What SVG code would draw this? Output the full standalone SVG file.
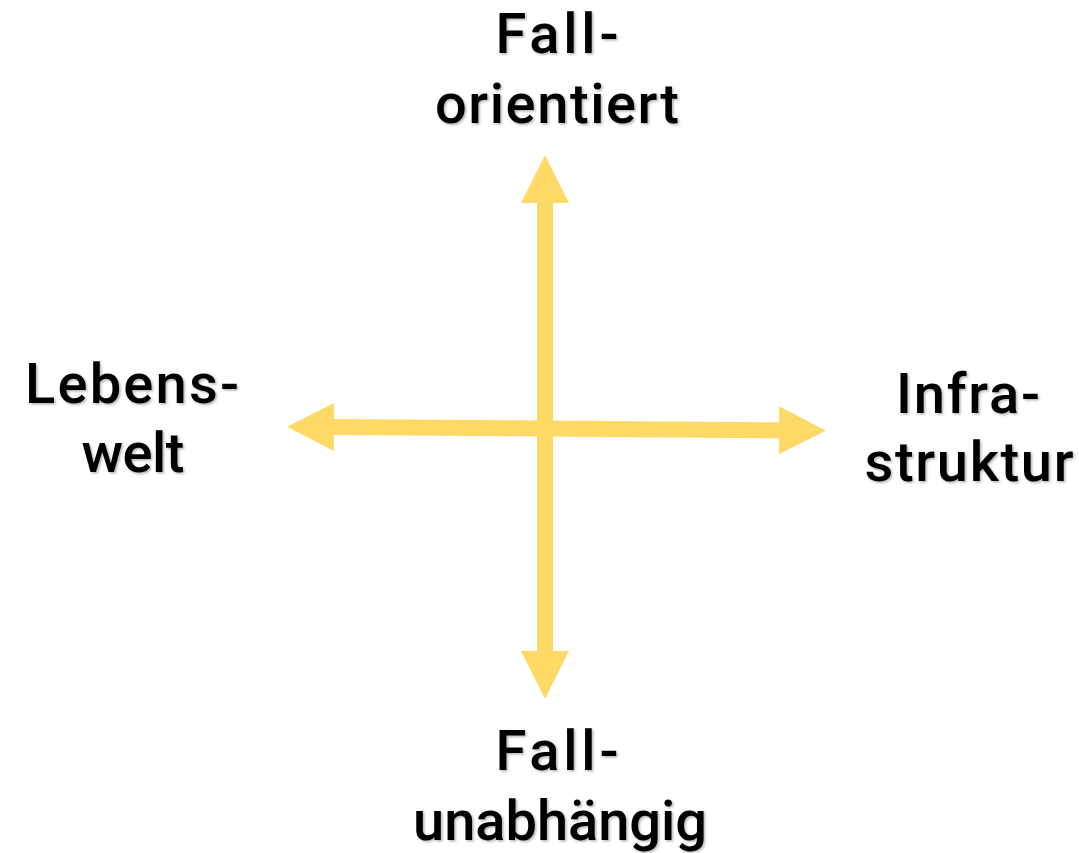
<svg xmlns="http://www.w3.org/2000/svg" width="1079" height="853" viewBox="0 0 1079 853">
  <defs>
    <filter id="shadow" x="-10%" y="-20%" width="120%" height="140%">
      <feDropShadow dx="1.5" dy="1.5" stdDeviation="1.2" flood-color="#000" flood-opacity="0.3"/>
    </filter>
  </defs>
  <style>
    .lbl { font-family: Roboto, "Liberation Sans", sans-serif; font-size: 56px; font-weight: 500; fill: #000; text-anchor: middle; filter: url(#shadow); }
    .arrow { fill: #FFD966; }
  </style>
  <rect width="1079" height="853" fill="#fff"/>
  <g id="connectors">
    <polygon class="arrow" points="545,155 569,203 553,203 553,651 569,651 545,699 521,651 537,651 537,203 521,203"/>
    <g transform="rotate(0.425 556.5 428.7)">
      <polygon class="arrow" points="287,428.7 334,404.7 334,420.7 779,420.7 779,404.7 826,428.7 779,452.7 779,436.7 334,436.7 334,452.7"/>
    </g>
  </g>
  <g id="node-top">
    <text class="lbl" x="557" y="53" textLength="123" lengthAdjust="spacing">Fall-</text>
    <text class="lbl" x="557" y="123" textLength="244" lengthAdjust="spacing">orientiert</text>
  </g>
  <g id="node-left">
    <text class="lbl" x="132" y="403" textLength="214" lengthAdjust="spacing">Lebens-</text>
    <text class="lbl" x="133" y="472" textLength="103" lengthAdjust="spacing">welt</text>
  </g>
  <g id="node-right">
    <text class="lbl" x="968" y="413" textLength="144" lengthAdjust="spacing">Infra-</text>
    <text class="lbl" x="969" y="481" textLength="209" lengthAdjust="spacing">struktur</text>
  </g>
  <g id="node-bottom">
    <text class="lbl" x="557" y="770" textLength="123" lengthAdjust="spacing">Fall-</text>
    <text class="lbl" x="560" y="840" textLength="294" lengthAdjust="spacing">unabhängig</text>
  </g>
</svg>
